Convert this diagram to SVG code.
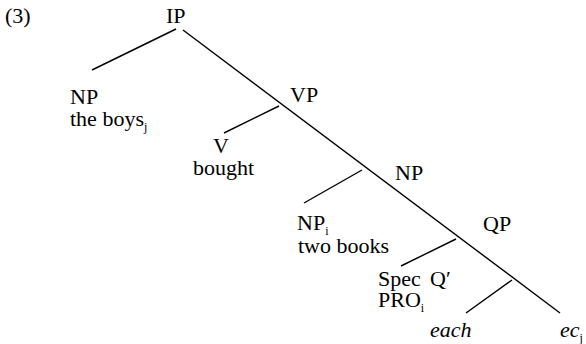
<svg xmlns="http://www.w3.org/2000/svg" width="586" height="344" viewBox="0 0 586 344">
<style>
text{font-family:"Liberation Serif","Times New Roman",serif;font-size:22px;fill:#000}
.sub{font-size:12px}
.it{font-style:italic}
line{stroke:#000;stroke-width:1.4}
</style>
<rect width="586" height="344" fill="#fff"/>
<text x="5" y="23">(3)</text>
<g id="connectors">
<line x1="183" y1="30" x2="560" y2="313"/>
<line x1="176" y1="29" x2="92" y2="70"/>
<line x1="279" y1="106" x2="224" y2="133"/>
<line x1="362" y1="170" x2="304" y2="203"/>
<line x1="456" y1="239" x2="401" y2="266"/>
<line x1="512" y1="280" x2="466" y2="313"/>
</g>
<g id="IP"><text x="166" y="23">IP</text></g>
<g id="NP1"><text x="70" y="104">NP</text><text x="70" y="126">the boys<tspan class="sub" dy="5">j</tspan></text></g>
<g id="VP"><text x="290" y="102">VP</text></g>
<g id="V"><text x="213" y="153">V</text><text x="193" y="175">bought</text></g>
<g id="NP2"><text x="395" y="180">NP</text></g>
<g id="NPi"><text x="297" y="230">NP<tspan class="sub" dy="5">i</tspan></text><text x="298" y="253">two books</text></g>
<g id="QP"><text x="483" y="231">QP</text></g>
<g id="Spec"><text x="378" y="286">Spec</text><text x="378" y="307">PRO<tspan class="sub" dy="5">i</tspan></text></g>
<g id="Qbar"><text x="430" y="286">Q′</text></g>
<g id="each"><text x="430" y="337" class="it">each</text></g>
<g id="ec"><text x="560" y="337"><tspan class="it">ec</tspan><tspan class="sub" dy="5">j</tspan></text></g>
</svg>
